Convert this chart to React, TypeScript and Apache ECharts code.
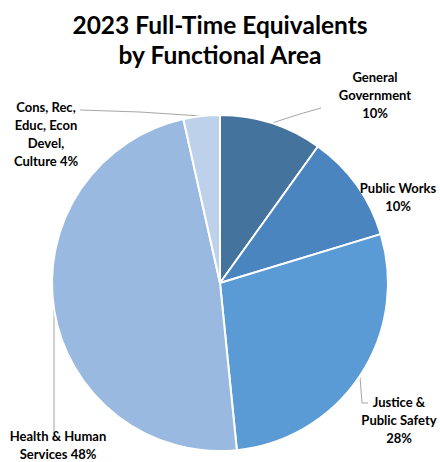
import React, { useEffect, useRef } from "react";
import * as echarts from "echarts";

const titleText = "2023 Full-Time Equivalents\nby Functional Area";
const categories = [
  "General Government",
  "Public Works",
  "Justice & Public Safety",
  "Health & Human Services",
  "Cons, Rec, Educ, Econ Devel, Culture",
];
// label wrapping of each category, followed by the percentage
const wrappedNames = [
  "General\nGovernment\n",
  "Public Works\n",
  "Justice &\nPublic Safety\n",
  "Health & Human\nServices ",
  "Cons, Rec,\nEduc, Econ\nDevel,\nCulture ",
];
const shares = [9.9, 10.4, 28.1, 48.1, 3.5];
const colors = ["#44739E", "#4A85BF", "#5B9BD5", "#99B9E0", "#BDD1EB"];

// label placement (centre of text block) and leader lines
const labelPos = [
  { x: 375, y: 95, line: [[272, 123], [300, 114], [321, 108]] },
  { x: 398, y: 197, line: null },
  { x: 399, y: 420, line: [[360, 377], [362, 403], [368, 403]] },
  { x: 58, y: 445, line: [[54, 310], [54, 380], [54, 440]] },
  { x: 46, y: 134, line: [[201, 116], [140, 112], [80, 110]] },
];

export default function App() {
  const ref = useRef<HTMLDivElement>(null);
  useEffect(() => {
    if (!ref.current) return;
    const chart = echarts.init(ref.current, null, { renderer: "svg" });
    chart.setOption({
      animation: false,
      title: {
        text: titleText,
        left: "center",
        top: 4,
        textStyle: {
          fontFamily: "Lato",
          fontWeight: "bold",
          fontSize: 24.5,
          lineHeight: 30,
          color: "#000",
        },
      },
      series: [
        {
          type: "pie",
          center: [220, 283],
          radius: 168,
          startAngle: 90,
          clockwise: true,
          avoidLabelOverlap: false,
          itemStyle: { borderColor: "#fff", borderWidth: 2 },
          label: {
            show: true,
            position: "outside",
            alignTo: "none",
            overflow: "none",
            fontFamily: "Lato",
            fontWeight: "bold",
            fontSize: 13,
            lineHeight: 18,
            color: "#000",
            align: "center",
            formatter: (p: any) => wrappedNames[p.dataIndex] + Math.round(p.percent) + "%",
          },
          percentPrecision: 0,
          labelLine: { show: true, lineStyle: { color: "#A6A6A6", width: 1 } },
          labelLayout: (p: any) => {
            const lp = labelPos[p.dataIndex];
            const r: any = {
              x: lp.x,
              y: lp.y,
              align: "center",
              verticalAlign: "middle",
              hideOverlap: false,
            };
            if (lp.line) r.labelLinePoints = lp.line;
            return r;
          },
          data: categories.map((name, i) => ({
            name,
            value: shares[i],
            itemStyle: { color: colors[i] },
            labelLine: { show: labelPos[i].line !== null },
          })),
        },
      ],
    });
    return () => chart.dispose();
  }, []);
  return (
    <div
      ref={ref}
      style={{ position: "fixed", left: 0, top: 0, width: 440, height: 462, background: "#fff" }}
    />
  );
}
